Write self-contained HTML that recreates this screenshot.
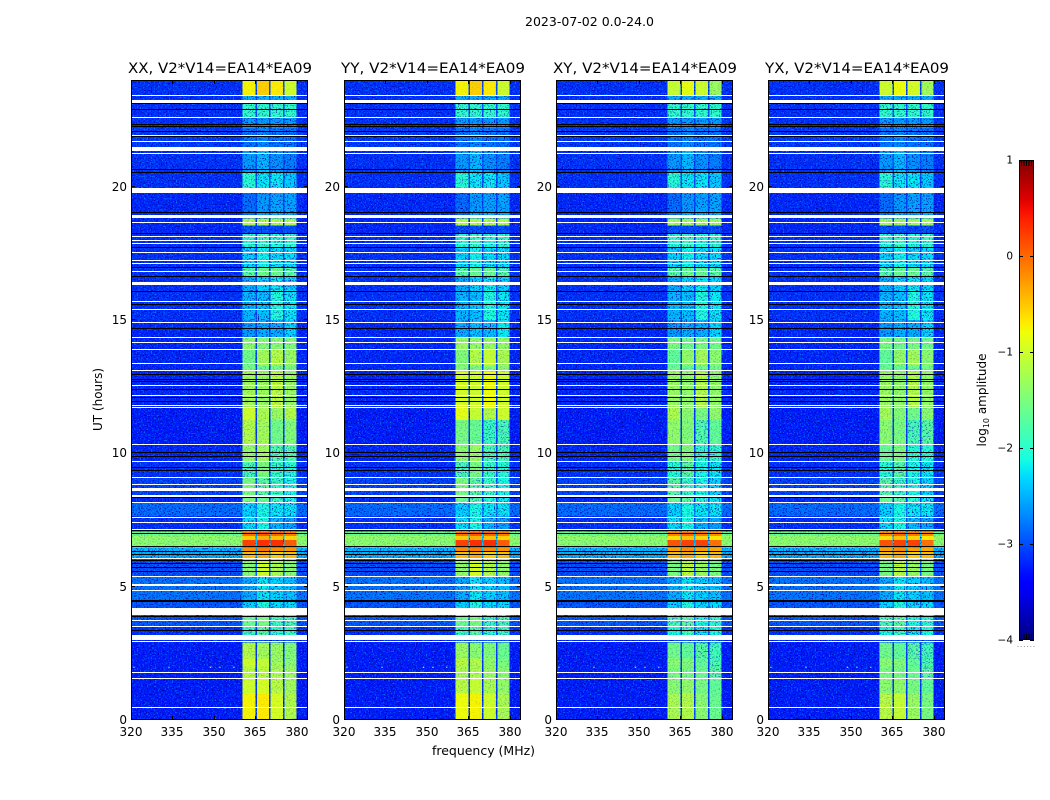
<!DOCTYPE html>
<html>
<head>
<meta charset="utf-8">
<title>2023-07-02 spectrograms</title>
<style>
html,body{margin:0;padding:0;background:#fff;}
svg{display:block;}
text{font-family:"DejaVu Sans","Liberation Sans",sans-serif;fill:#000;}
</style>
</head>
<body>
<svg id="chart" xmlns="http://www.w3.org/2000/svg" width="1050" height="800" viewBox="0 0 1050 800">
  <defs>
    <filter id="speckle-light" filterUnits="userSpaceOnUse" x="0" y="0" width="1050" height="800" color-interpolation-filters="sRGB">
      <feTurbulence type="fractalNoise" baseFrequency="0.72" numOctaves="1" seed="4"/>
      <feColorMatrix type="matrix" values="0 0 0 0 0  0 0 0 0 0.62  0 0 0 0 1  7 0 0 0 -3.85"/>
      <feComposite in2="SourceGraphic" operator="in"/>
    </filter>
    <filter id="speckle-dark" filterUnits="userSpaceOnUse" x="0" y="0" width="1050" height="800" color-interpolation-filters="sRGB">
      <feTurbulence type="fractalNoise" baseFrequency="0.72" numOctaves="1" seed="11"/>
      <feColorMatrix type="matrix" values="0 0 0 0 0  0 0 0 0 0  0 0 0 0 0.62  -7 0 0 0 3.15"/>
      <feComposite in2="SourceGraphic" operator="in"/>
    </filter>
    <linearGradient id="jet-gradient" x1="0" y1="1" x2="0" y2="0"></linearGradient>
  </defs>
  <text x="589.5" y="26" font-size="12" text-anchor="middle" textLength="129" lengthAdjust="spacingAndGlyphs">2023-07-02 0.0-24.0</text>
  <text transform="translate(102,399.5) rotate(-90)" font-size="12" text-anchor="middle">UT (hours)</text>
  <text x="483.5" y="755" font-size="12" text-anchor="middle" textLength="103" lengthAdjust="spacingAndGlyphs">frequency (MHz)</text>
  <g id="panels"></g>
  <g id="colorbar"></g>
  <text transform="translate(986,400) rotate(-90)" font-size="12" text-anchor="middle">log<tspan font-size="8" dy="3">10</tspan><tspan dy="-3"> amplitude</tspan></text>
</svg>
<script>
// ----- chart data (levels are log10 amplitude, times UT hours, frequencies MHz) -----
const panelTitles = ["XX, V2*V14=EA14*EA09", "YY, V2*V14=EA14*EA09", "XY, V2*V14=EA14*EA09", "YX, V2*V14=EA14*EA09"];
const xTickLabels = [320, 335, 350, 365, 380];
const yTickLabels = [0, 5, 10, 15, 20];
const colorbarTickLabels = [1, 0, -1, -2, -3, -4];
const channelEdgesMHz = [320, 360.4, 365, 365.6, 369.9, 370.5, 374.9, 375.5, 379.8, 384];
const bandStartUT = [0,1,1.6,2,2.3, 2.9,3,3.5,3.97,4.2, 4.5,5.36,6.04,6.3,6.47, 6.75,6.9,7.06,7.65,8.15, 8.32,9.07,9.67,10.3,11.25, 11.7,13.05,13.3,13.87,14.32, 15,16.1,16.65,16.95,17.7, 18.22,18.55,18.8,19.8,20.55, 21.4,22.2,22.58,23.1,23.4];
const offBandLevels = [-3.25,-3.25,-3.25,-3.25,-3.25, -3.2,-3.15,-2.95,-3.15,-2.95, -2.8,-3.0,-2.5,-2.45,-1.4, -1.35,-1.6,-3.15,-2.85,-3.2, -3.05,-3.15,-3.2,-3.25,-3.25, -3.2,-3.2,-3.2,-3.2,-3.2, -3.15,-3.15,-3.15,-3.15,-3.15, -3.2,-3.2,-3.2,-3.15,-3.15, -3.1,-3.15,-3.15,-3.15,-3.15];
const subband1Levels = [-.75,-1,-1.1,-1,-1.15, -3,-1.9,-1.6,-2.9,-2.3, -2.5,-1.4,-.45,-.2,.2, -.55,-.05,-2.25,-2.3,-1.5, -1.5,-1.8,-1.35,-1.15,-1, -1.25,-1.55,-1.55,-1.4,-2.6, -2.45,-2.5,-1.7,-2.3,-2, -3,-1.15,-2.85,-2,-2.6, -2.8,-2.6,-1.95,-2.5,-.75];
const subband2Levels = [-.7,-.95,-1.1,-1.05,-1.25, -3,-1.7,-1.5,-2.9,-2.05, -2.2,-1,-.35,-.1,.3, -.4,.1,-2.1,-2.1,-1.6, -1.7,-1.5,-1.25,-1.25,-1.2, -1.3,-1.6,-1.25,-1.45,-2.5, -2.4,-2.3,-1.6,-2.15,-1.9, -3,-1.15,-2.6,-2.2,-2.45, -2.7,-2.6,-1.95,-2.5,-.55];
const subband3Levels = [-.95,-1.1,-1.2,-1.25,-1.3, -3,-2,-1.9,-2.9,-2.25, -2.3,-1.2,-.55,-.2,.3, -.5,0,-2.45,-2.2,-1.9, -1.9,-1.9,-1.75,-1.55,-1.3, -1.1,-1.55,-1.15,-1.4,-2.5, -2.05,-2.2,-1.6,-2.25,-2.05, -3.05,-1.15,-2.55,-2.2,-2.65, -2.8,-2.6,-1.95,-2.5,-.7];
const subband4Levels = [-1.15,-1.25,-1.3,-1.4,-1.45, -3,-1.9,-1.8,-2.9,-2.25, -2.4,-1.4,-.45,-.25,.05, -.6,-.1,-2.55,-2.2,-2.1, -2.1,-2,-1.75,-1.45,-1.15, -1.3,-1.5,-1.3,-1.45,-2.3, -2.2,-2.3,-1.7,-2.25,-1.95, -3,-1.15,-2.55,-2.35,-2.75, -2.8,-2.6,-1.95,-2.5,-1];
const xxDelta = [0,0,0,0,0, 0,0,0,0,0, 0,0,0,0,0, 0,0,0,0,0, 0,0,0,0,0, 0,0,0,0,0, 0,0,0,0,0, 0,0,0,0,0, 0,0,0,0,0];
const yyDelta = [-.05,-.1,-.1,-.1,-.15, 0,0,0,0,0, 0,.05,0,0,0, 0,0,0,0,-.1, 0,0,-.05,-.35,.15, .3,.1,.1,.1,.1, 0,0,0,0,0, 0,0,0,0,0, 0,0,0,0,0];
const xyDelta = [-.45,-.4,-.4,-.4,-.4, 0,-.2,-.2,0,0, 0,-.1,0,-.1,-.1, -.1,-.1,0,0,-.1, -.2,-.2,-.2,-.2,-.2, -.05,-.05,-.1,-.1,0, 0,0,0,0,0, 0,-.1,0,0,0, 0,0,0,0,-.3];
const yxDelta = [-.35,-.4,-.4,-.4,-.4, 0,-.2,-.2,0,0, 0,-.1,0,-.1,-.1, -.1,-.1,0,0,-.1, -.2,-.2,-.25,-.25,-.25, -.05,-.05,-.1,-.1,0, 0,0,0,0,0, 0,-.1,0,0,0, 0,0,0,0,-.25];
const polarizationDeltas = [xxDelta, yyDelta, xyDelta, yxDelta];
const whiteFlagStartUT = [.46,1.53,1.75,2.91,3,3.48,3.71,3.96,4.85,5.03,5.35,6.03,7.12,7.39,7.58,8.14,8.36,8.6,8.81,9.06,9.67,10.3,11.7,11.79,12.15,12.51,13.08,13.34,13.87,14.15,14.31,14.88,15.37,15.69,16.3,16.81,17.1,17.22,17.52,17.84,17.97,18.1,18.64,18.81,19.75,21.21,21.34,21.66,21.9,22.56,23.15,23.41];
const whiteFlagSpanUT = [.04,.04,.04,.04,.19,.04,.04,.25,.04,.07,.04,.04,.04,.04,.05,.04,.08,.1,.04,.04,.04,.04,.04,.04,.04,.04,.04,.04,.04,.04,.04,.04,.04,.04,.13,.04,.04,.04,.04,.04,.04,.04,.04,.12,.19,.04,.14,.04,.04,.04,.1,.04];
const blackFlagStartUT = [3.35,3.87,3.94,4.41,4.47,5.56,5.69,5.84,5.96,6.19,6.31,6.47,6.97,7.09,8.31,9.34,9.44,9.87,10,11.94,12.06,12.37,12.68,12.75,12.94,14.67,15.56,16.06,16.62,16.94,17.69,18.21,19.02,20.53,20.64,21.88,22.06,22.25,22.31,22.87,23.1];
const spikeUT = [2, 2, 2, 2, 2];
const spikeFreqMHz = [320.8, 333.5, 348.5, 351.9, 356.9];
const spikeLevels = [-1.6, -1.7, -.9, -1.5, -1.7];

// ----- layout -----
const panelLeft = [131, 344, 556, 768];
const plotWidth = 177, plotTop = 80, plotBottom = 720;
const freqMin = 320, freqMax = 384, utMin = 0, utMax = 24;
const cbLeft = 1019, cbRight = 1034, cbTop = 160, cbBottom = 640, cbMin = -4, cbMax = 1;
const NS = "http://www.w3.org/2000/svg";

function xScale(freq, left) { return left + (freq - freqMin) / (freqMax - freqMin) * plotWidth; }
function yScale(ut) { return plotBottom - (ut - utMin) / (utMax - utMin) * (plotBottom - plotTop); }
function cbScale(level) { return cbBottom - (level - cbMin) / (cbMax - cbMin) * (cbBottom - cbTop); }

function ramp(v, pts) {
  for (let i = 1; i < pts.length; i++) {
    if (v <= pts[i][0]) {
      const a = pts[i - 1], b = pts[i];
      return a[1] + (b[1] - a[1]) * (v - a[0]) / (b[0] - a[0]);
    }
  }
  return pts[pts.length - 1][1];
}
function jet(level) {
  const v = Math.max(0, Math.min(1, (level - cbMin) / (cbMax - cbMin)));
  const r = ramp(v, [[0,0],[.35,0],[.66,1],[.89,1],[1,.5]]);
  const g = ramp(v, [[0,0],[.125,0],[.375,1],[.64,1],[.91,0],[1,0]]);
  const b = ramp(v, [[0,.5],[.11,1],[.34,1],[.65,0],[1,0]]);
  return "rgb(" + Math.round(r * 255) + "," + Math.round(g * 255) + "," + Math.round(b * 255) + ")";
}
function grainStrength(level) {
  if (level > -1.1) return .08;
  if (level > -1.7) return .22;
  if (level > -2.2) return .55;
  return .85;
}
function make(tag, parent, attrs) {
  const el = document.createElementNS(NS, tag);
  for (const k in attrs) el.setAttribute(k, attrs[k]);
  parent.appendChild(el);
  return el;
}

const panelsGroup = document.getElementById("panels");
panelTitles.forEach(function (title, p) {
  const left = panelLeft[p];
  const right = left + plotWidth;
  const panel = make("g", panelsGroup, {});
  
  

  // heatmap cells: one per (time band, channel block), with pixel grain scaled by level
  bandStartUT.forEach(function (start, b) {
    const end = b + 1 < bandStartUT.length ? bandStartUT[b + 1] : utMax;
    const off = offBandLevels[b];
    const delta = polarizationDeltas[p][b];
    const gap = Math.min(off + .15, -2.4);
    const levels = [off, subband1Levels[b] + delta, gap, subband2Levels[b] + delta, gap, subband3Levels[b] + delta, gap, subband4Levels[b] + delta, off];
    const top = yScale(end), height = yScale(start) - yScale(end);
    levels.forEach(function (level, c) {
      const x0 = xScale(channelEdgesMHz[c], left);
      const x1 = xScale(channelEdgesMHz[c + 1], left);
      const cell = make("rect", panel, { x: x0, y: top, width: x1 - x0, height: height, fill: jet(level), "shape-rendering": "crispEdges" });
      
      
      const strength = grainStrength(level);
      const light = make("rect", panel, { x: x0, y: top, width: x1 - x0, height: height, filter: "url(#speckle-light)", opacity: strength * .75 });
      
      
      const dark = make("rect", panel, { x: x0, y: top, width: x1 - x0, height: height, filter: "url(#speckle-dark)", opacity: strength });
      
      
    });
  });

  // isolated interference spikes
  spikeUT.forEach(function (ut, i) {
    const spike = make("rect", panel, { x: xScale(spikeFreqMHz[i], left), y: yScale(ut), width: 1.4, height: 1.2, fill: jet(spikeLevels[i]) });
    
    
  });

  // flagged rows
  blackFlagStartUT.forEach(function (ut) {
    const row = make("rect", panel, { x: left, y: Math.round(yScale(ut)) - 1, width: plotWidth, height: 1, fill: "#000", "shape-rendering": "crispEdges" });
    
    
  });
  whiteFlagStartUT.forEach(function (ut, i) {
    const y1 = yScale(ut + whiteFlagSpanUT[i]);
    const y0 = yScale(ut);
    const row = make("rect", panel, { x: left, y: Math.round(y1), width: plotWidth, height: Math.max(1, Math.round(y0 - y1)), fill: "#fff", "shape-rendering": "crispEdges" });
    
    
  });

  // frame
  const frame = make("rect", panel, { x: left + .5, y: plotTop + .5, width: plotWidth - 1, height: plotBottom - plotTop - 1, fill: "none", stroke: "#000", "stroke-width": 1 });
  
  

  // x ticks
  xTickLabels.forEach(function (t) {
    const x = Math.round(xScale(t, left)) + .5;
    const tb = make("line", panel, { x1: x, x2: x, y1: plotBottom, y2: plotBottom - 4, stroke: "#000" });
    
    
    const tt = make("line", panel, { x1: x, x2: x, y1: plotTop, y2: plotTop + 4, stroke: "#000" });
    
    
    const lab = make("text", panel, { x: x - .5, y: 736, "font-size": 12, "text-anchor": "middle" });
    lab.textContent = String(t);
    
    
  });

  // y ticks
  yTickLabels.forEach(function (t) {
    const y = Math.round(yScale(t)) - .5;
    const tl = make("line", panel, { x1: left, x2: left + 4, y1: y, y2: y, stroke: "#000" });
    
    
    const tr = make("line", panel, { x1: right, x2: right - 4, y1: y, y2: y, stroke: "#000" });
    
    
    const lab = make("text", panel, { x: left - 4, y: y + 4.5, "font-size": 12, "text-anchor": "end" });
    lab.textContent = String(t);
    
    
  });

  const head = make("text", panel, { x: left + plotWidth / 2 + .5, y: 73, "font-size": 14.6, "text-anchor": "middle", textLength: 184, lengthAdjust: "spacingAndGlyphs" });
  head.textContent = title;
  
  
});

// ----- colorbar -----
const gradient = document.getElementById("jet-gradient");
for (let i = 0; i <= 50; i++) {
  const stop = make("stop", gradient, { offset: i / 50, "stop-color": jet(cbMin + (cbMax - cbMin) * i / 50) });
  
  
}
const cbGroup = document.getElementById("colorbar");
const cbFill = make("rect", cbGroup, { x: cbLeft, y: cbTop, width: cbRight - cbLeft, height: cbBottom - cbTop, fill: "url(#jet-gradient)" });


const cbFrame = make("rect", cbGroup, { x: cbLeft + .5, y: cbTop + .5, width: cbRight - cbLeft - 1, height: cbBottom - cbTop - 1, fill: "none", stroke: "#000" });


colorbarTickLabels.forEach(function (t) {
  const y = Math.round(cbScale(t)) + .5;
  const inner = make("line", cbGroup, { x1: cbLeft, x2: cbLeft + 4, y1: y, y2: y, stroke: "#000" });
  
  
  const outer = make("line", cbGroup, { x1: cbRight, x2: cbRight - 4, y1: y, y2: y, stroke: "#000" });
  
  
  const lab = make("text", cbGroup, { x: 1013, y: cbScale(t) + 3.5, "font-size": 10.5, "text-anchor": "end" });
  lab.textContent = String(t).replace("-", "\u2212");
  
  
});
for (let i = 1; i <= 5; i++) {
  const x = cbLeft + i * (cbRight - cbLeft) / 6;
  const topMark = make("line", cbGroup, { x1: x, x2: x, y1: cbTop, y2: cbTop + 6, stroke: "#000" });
  
  
  const botMark = make("line", cbGroup, { x1: x, x2: x, y1: cbBottom, y2: cbBottom - 6, stroke: "#000" });
  
  
}
for (let i = 0; i < 6; i++) {
  const dot = make("rect", cbGroup, { x: 1017.5 + i * 3.2, y: 646, width: 1, height: 1, fill: "#999" });
  
  
}
</script>
</body>
</html>
